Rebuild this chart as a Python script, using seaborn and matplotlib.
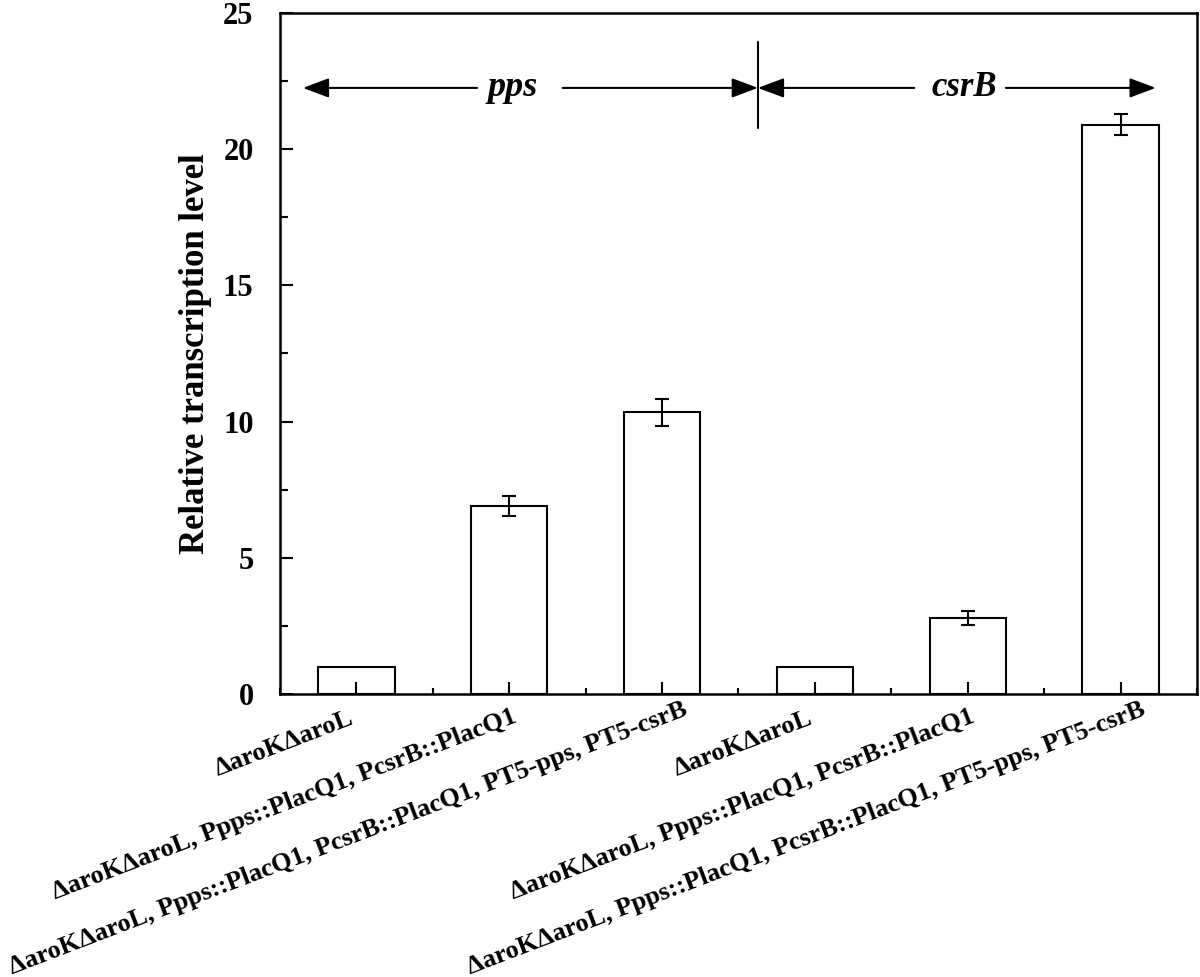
import matplotlib
matplotlib.use('Agg')
import matplotlib.pyplot as plt
import seaborn as sns
import pandas as pd
import numpy as np
from matplotlib.ticker import MultipleLocator, FixedLocator

# ---- data ----
genes = ['pps', 'pps', 'pps', 'csrB', 'csrB', 'csrB']
strain_labels = [
    'ΔaroKΔaroL',
    'ΔaroKΔaroL, Ppps::PlacQ1, PcsrB::PlacQ1',
    'ΔaroKΔaroL, Ppps::PlacQ1, PcsrB::PlacQ1, PT5-pps, PT5-csrB',
    'ΔaroKΔaroL',
    'ΔaroKΔaroL, Ppps::PlacQ1, PcsrB::PlacQ1',
    'ΔaroKΔaroL, Ppps::PlacQ1, PcsrB::PlacQ1, PT5-pps, PT5-csrB',
]
values = [1.0, 6.9, 10.34, 1.0, 2.8, 20.9]
errors = [0.0, 0.36, 0.50, 0.0, 0.26, 0.38]
ylabel = 'Relative transcription level'

keys = [f'{g}-{i}' for i, g in enumerate(genes)]
df = pd.DataFrame({'key': keys, 'gene': genes, 'value': values, 'err': errors})

sns.set_theme(style='ticks')
plt.rcParams['font.family'] = ['Liberation Serif', 'DejaVu Serif']
plt.rcParams['font.weight'] = 'bold'
plt.rcParams['axes.labelweight'] = 'bold'
for k in ['text.color', 'axes.labelcolor', 'xtick.color', 'ytick.color',
          'axes.edgecolor']:
    plt.rcParams[k] = 'black'

fig = plt.figure(figsize=(12, 9.77), dpi=100)
ax = fig.add_axes([0.2333, 0.2897, 0.7642, 0.6970])

sns.barplot(data=df, x='key', y='value', order=keys, color='white',
            saturation=1, edgecolor='black', linewidth=1.5, width=0.5,
            errorbar=None, ax=ax)

pos = np.arange(len(values))
vals = np.array(values)
errs = np.array(errors)
m = errs > 0
ax.errorbar(pos[m], vals[m], yerr=errs[m], fmt='none', ecolor='black',
            elinewidth=1.5, capsize=4.7, capthick=1.5, zorder=3)

ax.set_xlim(-0.5, 5.5)
ax.set_ylim(0, 25)
ax.yaxis.set_major_locator(MultipleLocator(5))
ax.yaxis.set_minor_locator(MultipleLocator(2.5))
ax.xaxis.set_major_locator(FixedLocator(pos))
ax.xaxis.set_minor_locator(FixedLocator(np.arange(-0.5, 6.0, 1.0)))
ax.set_xticklabels([''] * len(pos))

# rotated category labels, placed at each category position
offsets_pt = [(-5.8, -1.4), (1.5, 0.0), (14.4, 5.0),
              (-5.8, -1.4), (1.5, 0.0), (14.4, 5.0)]
for i, (lab, (dx, dy)) in enumerate(zip(strain_labels, offsets_pt)):
    ax.annotate(lab, xy=(pos[i], 0), xycoords=('data', 'axes fraction'),
                xytext=(dx, -8 + dy), textcoords='offset points',
                rotation=21, ha='right', va='top', rotation_mode='anchor',
                fontsize=19, fontweight='bold', color='black',
                annotation_clip=False)
ax.set_axisbelow(False)

for s in ax.spines.values():
    s.set_visible(True)
    s.set_linewidth(1.8)
    s.set_color('black')

ax.tick_params(axis='y', which='major', direction='in', length=9.5, width=1.5,
               labelsize=22, pad=19, left=True, right=False, colors='black')
ax.tick_params(axis='y', which='minor', direction='in', length=6, width=1.5,
               left=True, right=False, colors='black')
ax.tick_params(axis='x', which='major', direction='in', length=9, width=1.5,
               pad=8, bottom=True, top=False, colors='black')
ax.tick_params(axis='x', which='minor', direction='in', length=4, width=1.5,
               bottom=True, top=False, colors='black')
for t in ax.get_yticklabels():
    t.set_fontweight('bold')

ax.set_xlabel('')
ax.set_ylabel(ylabel, fontsize=25, fontweight='bold', labelpad=8, color='black')

# gene region annotation
y_arrow = 22.25
akw = dict(arrowstyle='-|>,head_length=0.8,head_width=0.3', color='black',
           lw=1.5, shrinkA=0, shrinkB=0, mutation_scale=20)
div_x = 2.627
ax.annotate('', xy=(-0.35, y_arrow), xytext=(0.79, y_arrow), arrowprops=akw)
ax.annotate('', xy=(div_x, y_arrow), xytext=(1.35, y_arrow), arrowprops=akw)
ax.annotate('', xy=(div_x, y_arrow), xytext=(3.65, y_arrow), arrowprops=akw)
ax.annotate('', xy=(5.23, y_arrow), xytext=(4.25, y_arrow), arrowprops=akw)
ax.plot([div_x, div_x], [20.78, 23.93], color='black', lw=1.5)
ax.text(1.02, y_arrow, genes[0], ha='center', va='center', style='italic',
        fontweight='bold', fontsize=26, color='black')
ax.text(3.98, y_arrow, genes[3], ha='center', va='center', style='italic',
        fontweight='bold', fontsize=25, color='black')

fig.savefig('out.png', dpi=100)
